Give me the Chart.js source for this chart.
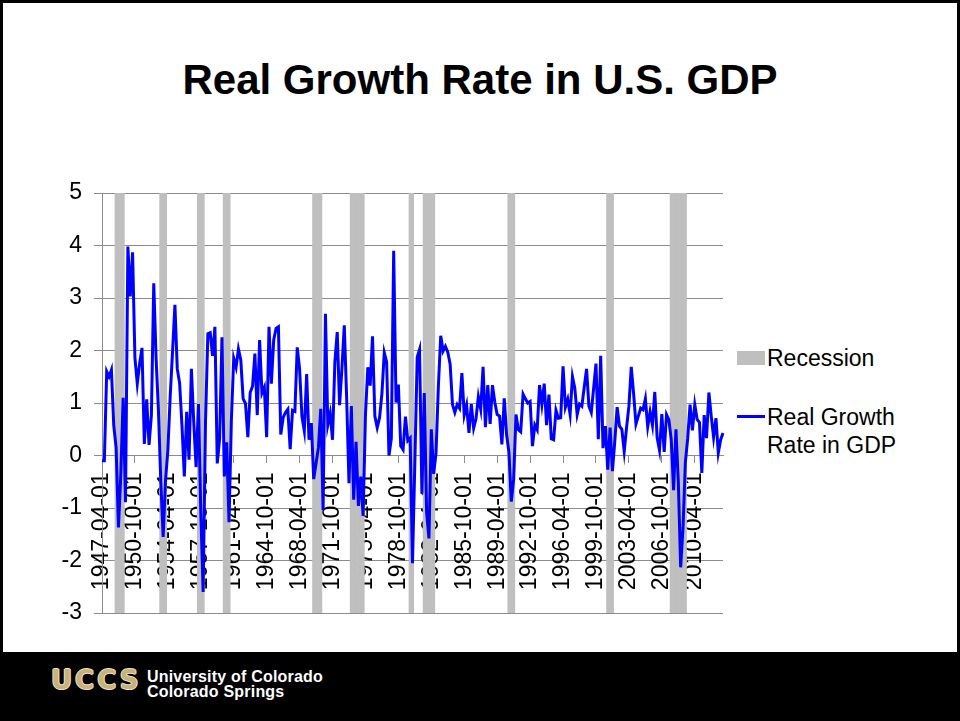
<!DOCTYPE html>
<html>
<head>
<meta charset="utf-8">
<title>Real Growth Rate in U.S. GDP</title>
<script src="https://cdn.jsdelivr.net/npm/chart.js@4.4.1/dist/chart.umd.min.js"></script>
<style>
  html, body { margin: 0; padding: 0; }
  body { width: 960px; height: 721px; background: #000; position: relative; overflow: hidden;
         font-family: "Liberation Sans", Arial, sans-serif; }
  #slide { position: absolute; left: 3px; top: 3px; width: 954px; height: 649px; background: #fff; }
  #title { position: absolute; left: 0; top: 59px; width: 960px; text-align: center;
           font-size: 42px; line-height: 42px; font-weight: bold; color: #000; }
  #chartBox { position: absolute; left: 40px; top: 178px; }
  .legendText { position: absolute; left: 767px; font-size: 23px; line-height: 28px; color: #000; }
  #logo { position: absolute; left: 51px; top: 667px; font-family: "DejaVu Sans", sans-serif; font-weight: bold;
          font-size: 26px; line-height: 26px; letter-spacing: 3px; color: #c8b27b;
          text-shadow: -1px 0 #efe4c4, 1px 0 #efe4c4, 0 -1px #efe4c4, 0 1px #efe4c4; }
  .uni { position: absolute; left: 147px; color: #fff; font-size: 16px; line-height: 15px; font-weight: bold; letter-spacing: 0.2px; }
</style>
</head>
<body>
<div id="slide"></div>
<div id="title">Real Growth Rate in U.S. GDP</div>
<div id="chartBox"><canvas id="gdpChart" width="690" height="450"></canvas></div>

<!-- legend -->
<div style="position:absolute;left:737px;top:351px;width:28px;height:14px;background:#bfbfbf;"></div>
<div class="legendText" style="top:344px;">Recession</div>
<div style="position:absolute;left:737px;top:415px;width:28px;height:3px;background:#0000ff;"></div>
<div class="legendText" style="top:403px;">Real Growth<br>Rate in GDP</div>

<div id="logo">UCCS</div>
<div class="uni" style="top:669px;">University of Colorado</div>
<div class="uni" style="top:684px;">Colorado Springs</div>

<script>
// quarterly real GDP growth (%), first value = 1947-04-01
const growth = [
  -0.1, -0.1, 1.6,
  1.5, 1.63, 0.57, 0.15,      // 1948
  -1.37, -0.35, 1.1, -0.89,   // 1949
  3.98, 3.03, 3.87, 1.86,     // 1950
  1.37, 1.75, 2.05, 0.22,     // 1951
  1.07, 0.2, 0.77, 3.28,      // 1952
  1.85, 0.85, -0.5, -1.55,    // 1953
  -0.48, 0.1, 1.13, 1.99,     // 1954
  2.87, 1.65, 1.38, 0.57,     // 1955
  -0.4, 0.83, -0.08, 1.65,    // 1956
  0.64, -0.22, 0.98, -1.07,   // 1957
  -2.6, 0.64, 2.32, 2.34,     // 1958
  1.9, 2.45, -0.15, 0.32,     // 1959
  2.25, -0.4, 0.25, -1.27,    // 1960
  0.67, 1.85, 1.68, 2.03,     // 1961
  1.82, 1.08, 0.99, 0.35,     // 1962
  1.2, 1.32, 1.94, 0.77,      // 1963
  2.2, 1.19, 1.3, 0.35,       // 1964
  2.45, 1.37, 2.2, 2.42,      // 1965
  2.45, 0.4, 0.72, 0.82,      // 1966
  0.88, 0.12, 0.86, 0.84,     // 1967
  2.06, 1.65, 0.74, 0.47,     // 1968
  1.55, 0.3, 0.62, -0.45,     // 1969
  -0.15, 0.15, 0.89, -1.04,   // 1970
  2.7, 0.58, 0.8, 0.3,        // 1971
  1.78, 2.35, 0.96, 1.66,     // 1972
  2.48, 1.11, -0.53, 0.94,    // 1973
  -0.84, 0.26, -0.96, -0.4,   // 1974
  -1.15, 0.77, 1.68, 1.33,    // 1975
  2.27, 0.75, 0.53, 0.72,     // 1976
  1.18, 1.96, 1.78, 0.0,      // 1977
  0.32, 3.9, 1.01, 1.35,      // 1978
  0.18, 0.11, 0.74, 0.28,     // 1979
  0.33, -2.05, -0.13, 1.87,   // 1980
  2.02, -0.73, 1.19, -1.09,   // 1981
  -1.58, 0.5, -0.35, 0.05,    // 1982
  1.32, 2.28, 1.99, 2.08,     // 1983
  1.97, 1.74, 0.97, 0.82,     // 1984
  0.97, 0.9, 1.57, 0.77,      // 1985
  0.96, 0.43, 0.98, 0.52,     // 1986
  0.7, 1.12, 0.88, 1.69,      // 1987
  0.54, 1.34, 0.6, 1.34,      // 1988
  1.01, 0.78, 0.75, 0.21,     // 1989
  1.09, 0.4, 0.06, -0.88,     // 1990
  -0.45, 0.78, 0.49, 0.45,    // 1991
  1.17, 1.08, 1.0, 1.03,      // 1992
  0.18, 0.58, 0.49, 1.34,     // 1993
  0.97, 1.37, 0.58, 1.16,     // 1994
  0.32, 0.3, 0.86, 0.71,      // 1995
  0.72, 1.7, 0.92, 1.07,      // 1996
  0.78, 1.5, 1.28, 0.78,      // 1997
  0.98, 0.94, 1.3, 1.65,      // 1998
  0.94, 0.82, 1.28, 1.75,     // 1999
  0.31, 1.9, 0.14, 0.56,      // 2000
  -0.27, 0.53, -0.3, 0.27,    // 2001
  0.92, 0.56, 0.5, 0.08,      // 2002
  0.53, 0.94, 1.69, 1.18,     // 2003
  0.6, 0.75, 0.9, 0.87,       // 2004
  1.08, 0.55, 0.83, 0.58,     // 2005
  1.21, 0.34, 0.1, 0.79,      // 2006
  0.07, 0.78, 0.68, 0.3,      // 2007
  -0.66, 0.5, -0.5, -2.13,    // 2008
  -1.38, -0.13, 0.33, 0.97,   // 2009
  0.48, 0.97, 0.69, 0.63,     // 2010
  -0.33, 0.77, 0.33, 1.2,     // 2011
  0.75, 0.35, 0.71, 0.05,     // 2012
  0.3, 0.43                   // 2013
];

// recession quarters (first and last quarter of each)
const recessionStart = ['1948-10-01', '1953-07-01', '1957-07-01', '1960-04-01', '1969-10-01', '1973-10-01',
                        '1980-01-01', '1981-07-01', '1990-07-01', '2001-01-01', '2007-10-01'];
const recessionEnd   = ['1949-07-01', '1954-01-01', '1958-01-01', '1960-10-01', '1970-07-01', '1975-01-01',
                        '1980-04-01', '1982-07-01', '1991-01-01', '2001-07-01', '2009-04-01'];

// labels shown on the category axis
const tickLabels = ['1947-04-01', '1950-10-01', '1954-04-01', '1957-10-01', '1961-04-01', '1964-10-01',
                    '1968-04-01', '1971-10-01', '1975-04-01', '1978-10-01', '1982-04-01', '1985-10-01',
                    '1989-04-01', '1992-10-01', '1996-04-01', '1999-10-01', '2003-04-01', '2006-10-01',
                    '2010-04-01'];

const yMin = -3, yMax = 5;

// quarter dates for every point
const quarters = [];
for (let i = 0; i < growth.length; i++) {
    const m = 4 + i * 3;
    const year = 1947 + Math.floor((m - 1) / 12);
    const month = ((m - 1) % 12) + 1;
    quarters.push(year + '-' + String(month).padStart(2, '0') + '-01');
}

function inRecession(q) {
    for (let k = 0; k < recessionStart.length; k++) {
        if (q >= recessionStart[k] && q <= recessionEnd[k]) return true;
    }
    return false;
}
const recessionBars = quarters.map(q => inRecession(q) ? [yMin, yMax] : null);

const gridGray = '#8c8c8c';
const tickFont = { family: '"Liberation Sans", Arial, sans-serif', size: 23 };

const gdpChart = new Chart(document.getElementById('gdpChart'), {
    data: {
        labels: quarters,
        datasets: [
            {
                type: 'line',
                label: 'Real Growth Rate in GDP',
                data: growth,
                borderColor: '#0000ff',
                borderWidth: 3,
                pointRadius: 0,
                tension: 0,
                fill: false,
                order: 0
            },
            {
                type: 'bar',
                label: 'Recession',
                data: recessionBars,
                backgroundColor: '#bfbfbf',
                borderWidth: 0,
                barPercentage: 1,
                categoryPercentage: 1,
                order: 1
            }
        ]
    },
    options: {
        responsive: false,
        animation: false,
        devicePixelRatio: 1,
        layout: { padding: { top: 15, bottom: 15, left: 0, right: 7 } },
        plugins: {
            legend: { display: false },
            tooltip: { enabled: false }
        },
        scales: {
            x: {
                type: 'category',
                position: { y: 0 },
                offset: false,
                afterFit: scale => { scale.paddingLeft = 0; scale.paddingRight = 0; },
                grid: {
                    offset: false,
                    drawOnChartArea: false,
                    drawTicks: true,
                    tickLength: 7,
                    color: ctx => (ctx.tick && ctx.tick.label) ? gridGray : 'rgba(0,0,0,0)'
                },
                border: { display: true, color: gridGray, width: 1 },
                ticks: {
                    autoSkip: false,
                    maxRotation: 90,
                    minRotation: 90,
                    padding: 10,
                    color: '#000',
                    font: tickFont,
                    callback: function (value) {
                        const lbl = this.getLabelForValue(value);
                        return tickLabels.includes(lbl) ? lbl : '';
                    }
                }
            },
            y: {
                min: yMin,
                max: yMax,
                afterFit: scale => { scale.width = 62; scale.paddingTop = 0; scale.paddingBottom = 0; },
                grid: { color: gridGray, tickLength: 8, drawTicks: true },
                border: { display: true, color: gridGray },
                ticks: {
                    stepSize: 1,
                    padding: 12,
                    color: '#000',
                    font: tickFont
                }
            }
        }
    }
});
</script>
</body>
</html>
